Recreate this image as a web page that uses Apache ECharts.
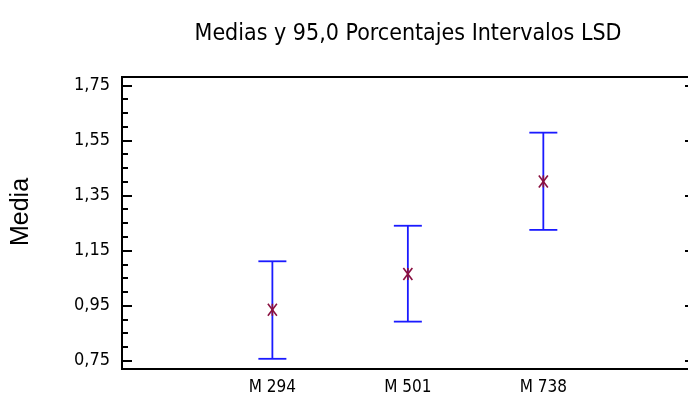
<!DOCTYPE html>
<html><head><meta charset="utf-8">
<script src="https://cdn.jsdelivr.net/npm/echarts@6/dist/echarts.min.js"></script>
<style>html,body{margin:0;padding:0;background:#fff}#c{width:688px;height:397px}</style>
</head><body><div id="c"></div>
<script>
var categories = ['M 294', 'M 501', 'M 738'];
var means = [0.935, 1.065, 1.401];
var lower = [0.757, 0.892, 1.225];
var upper = [1.111, 1.240, 1.578];
var yMajorTicks = [0.75, 0.95, 1.15, 1.35, 1.55, 1.75];
var yMinorTicks = [0.75,0.80,0.85,0.90,0.95,1.00,1.05,1.10,1.15,1.20,1.25,1.30,1.35,1.40,1.45,1.50,1.55,1.60,1.65,1.70,1.75];
var titleText = 'Medias y 95,0 Porcentajes Intervalos LSD';
var yName = 'Media';

var chart = echarts.init(document.getElementById('c'), null, {renderer: 'canvas'});
var narrow = '"Liberation Sans Narrow", "Arial Narrow", "DejaVu Sans Condensed", sans-serif';
var data = categories.map(function (c, i) { return [i, means[i], lower[i], upper[i]]; });
var yBase = {type: 'value', min: 0.72, max: 1.78, splitLine: {show: false}, axisLine: {show: false, onZero: false}};
var option = {
  animation: false,
  backgroundColor: '#fff',
  grid: {left: 122, top: 77, width: 569, height: 292, show: true, borderColor: '#000', borderWidth: 2, backgroundColor: 'transparent', outerBoundsMode: 'none', containLabel: false},
  graphic: [{type: 'text', x: 408, y: 34, style: {text: titleText, textAlign: 'center', textVerticalAlign: 'middle', font: '23px ' + narrow, fill: '#000'}}],
  xAxis: {
    type: 'value', min: -1.11, max: 3.09,
    axisLine: {show: true, onZero: false, lineStyle: {color: '#000', width: 2}},
    axisTick: {show: false},
    splitLine: {show: false},
    axisLabel: {customValues: [0, 1, 2], formatter: function (v) { return categories[Math.round(v)] || ''; }, color: '#000', fontFamily: narrow, fontSize: 17, margin: 10}
  },
  yAxis: [
    Object.assign({}, yBase, {
      position: 'left',
      axisLine: {show: true, onZero: false, lineStyle: {color: '#000', width: 2}},
      name: yName, nameLocation: 'middle', nameRotate: 90, nameGap: 88,
      nameTextStyle: {color: '#000', fontFamily: 'Liberation Sans, Arial, sans-serif', fontSize: 25, padding: [0, 0, 0, 22]},
      axisTick: {show: true, inside: true, length: 10, customValues: yMajorTicks, lineStyle: {color: '#000', width: 2}},
      axisLabel: {customValues: yMajorTicks, formatter: function (v) { return v.toFixed(2).replace('.', ','); }, color: '#000', fontFamily: narrow, fontSize: 18, margin: 12}
    }),
    Object.assign({}, yBase, {
      position: 'left', offset: 0,
      axisTick: {show: true, inside: true, length: 6, customValues: yMinorTicks, lineStyle: {color: '#000', width: 2}},
      axisLabel: {show: false}
    }),
    Object.assign({}, yBase, {
      position: 'right', offset: 0,
      axisTick: {show: true, inside: true, length: 6, customValues: yMajorTicks, lineStyle: {color: '#000', width: 2}},
      axisLabel: {show: false}
    })
  ],
  series: [{
    type: 'custom',
    xAxisIndex: 0, yAxisIndex: 0,
    data: data,
    encode: {x: 0, y: [1, 2, 3]},
    renderItem: function (params, api) {
      var x = api.value(0);
      var pm = api.coord([x, api.value(1)]);
      var pl = api.coord([x, api.value(2)]);
      var pu = api.coord([x, api.value(3)]);
      var cw = 14, bs = {stroke: '#1a1aff', lineWidth: 1.8};
      var ms = {stroke: '#8a1040', lineWidth: 1.6};
      var r = 6;
      return {type: 'group', children: [
        {type: 'line', shape: {x1: pl[0], y1: pl[1], x2: pu[0], y2: pu[1]}, style: bs},
        {type: 'line', shape: {x1: pl[0] - cw, y1: pl[1], x2: pl[0] + cw, y2: pl[1]}, style: bs},
        {type: 'line', shape: {x1: pu[0] - cw, y1: pu[1], x2: pu[0] + cw, y2: pu[1]}, style: bs},
        {type: 'line', shape: {x1: pm[0] - 4.5, y1: pm[1] - r, x2: pm[0] + 4.5, y2: pm[1] + r}, style: ms},
        {type: 'line', shape: {x1: pm[0] + 4.5, y1: pm[1] - r, x2: pm[0] - 4.5, y2: pm[1] + r}, style: ms},
        {type: 'line', shape: {x1: pm[0], y1: pm[1] - r, x2: pm[0], y2: pm[1] + r}, style: ms}
      ]};
    }
  }]
};
chart.setOption(option);
</script></body></html>
